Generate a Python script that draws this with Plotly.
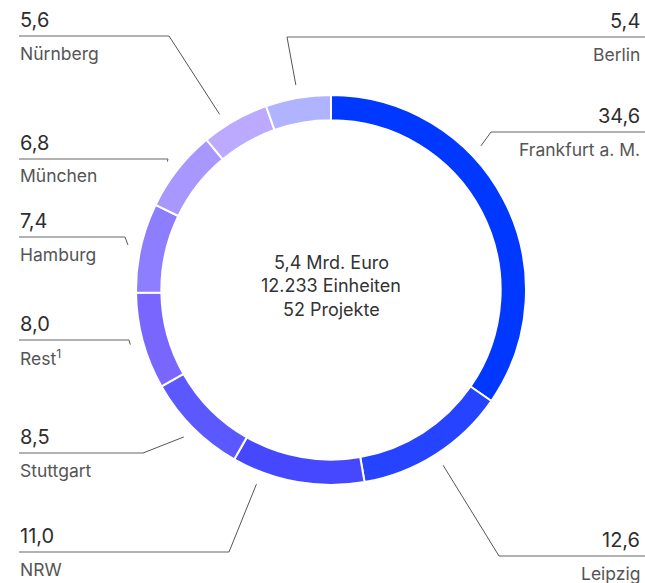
import math
import plotly.graph_objects as go

# ---- data ----
cities = ["Frankfurt a. M.", "Leipzig", "NRW", "Stuttgart", "Rest<sup>1</sup>",
          "Hamburg", "München", "Nürnberg", "Berlin"]
shares = [34.6, 12.6, 11.0, 8.5, 8.0, 7.4, 6.8, 5.6, 5.4]
value_labels = ["34,6", "12,6", "11,0", "8,5", "8,0", "7,4", "6,8", "5,6", "5,4"]
center_lines = ["5,4 Mrd. Euro", "12.233 Einheiten", "52 Projekte"]

# ---- styling / layout ----
colors = ["#0038ff", "#2643ff", "#4548ff", "#5c58ff", "#7866ff",
          "#8d7dff", "#a797ff", "#bbaaff", "#b0b3ff"]
side = ["right", "right", "left", "left", "left", "left", "left", "left", "right"]
line_y = [132, 556, 552, 453, 340, 237, 159, 36, 37]      # px from top
elbow_x = [491, 499, 229, 143, 129, 125, 168, 169, 287]   # px
anchor_frac = [0.37, 0.5, 0.78, 0.5, 0.5, 0.5, 0.5, 0.36, 0.5]

W, H = 645, 583
CX, CY, R = 331, 290, 195
R_LEAD = 208

def px(x):
    return x / W

def py(y):
    return 1 - y / H

fig = go.Figure(go.Pie(
    values=shares,
    labels=[c.replace("<sup>1</sup>", "¹") for c in cities],
    sort=False,
    direction="clockwise",
    rotation=0,
    hole=0.87,
    textinfo="none",
    hoverinfo="none",
    marker=dict(colors=colors, line=dict(color="white", width=2)),
    domain=dict(x=[px(CX - R), px(CX + R)], y=[py(CY + R), py(CY - R)]),
    showlegend=False,
))

total = sum(shares)
shapes = []
annotations = []
cum = 0.0
line_color = "#555555"
for i, v in enumerate(shares):
    ang = (cum + anchor_frac[i] * v) / total * 2 * math.pi
    cum += v
    ex = CX + R_LEAD * math.sin(ang)
    ey = CY - R_LEAD * math.cos(ang)
    ly = line_y[i]
    bx = elbow_x[i]
    shapes.append(dict(type="line", xref="paper", yref="paper",
                       x0=px(ex), y0=py(ey), x1=px(bx), y1=py(ly),
                       line=dict(color=line_color, width=1)))
    if side[i] == "left":
        hx0, hx1 = 19, bx
        tx, xa = 18, "left"
    else:
        hx0, hx1 = bx, W
        tx, xa = W - 3, "right"
    shapes.append(dict(type="line", xref="paper", yref="paper",
                       x0=px(hx0), y0=py(ly), x1=px(hx1), y1=py(ly),
                       line=dict(color="#666666", width=1.2)))
    annotations.append(dict(xref="paper", yref="paper", x=px(tx), y=py(ly - 16),
                            text=value_labels[i], showarrow=False,
                            xanchor=xa, yanchor="middle",
                            font=dict(size=20, color="#2e2e2e")))
    annotations.append(dict(xref="paper", yref="paper", x=px(tx), y=py(ly + 17),
                            text=cities[i], showarrow=False,
                            xanchor=xa, yanchor="middle",
                            font=dict(size=17.5, color="#555555")))

for j, t in enumerate(center_lines):
    annotations.append(dict(xref="paper", yref="paper", x=px(CX), y=py(262 + 23.5 * j),
                            text=t, showarrow=False, xanchor="center", yanchor="middle",
                            font=dict(size=18, color="#333333")))

fig.update_layout(
    width=W, height=H,
    margin=dict(l=0, r=0, t=0, b=0),
    paper_bgcolor="white",
    plot_bgcolor="white",
    font=dict(family="Inter, 'Noto Sans', sans-serif"),
    shapes=shapes,
    annotations=annotations,
)

fig.write_html("out.html", config={"displayModeBar": False},
               post_script="document.body.style.margin='0';document.body.style.overflow='hidden';")
